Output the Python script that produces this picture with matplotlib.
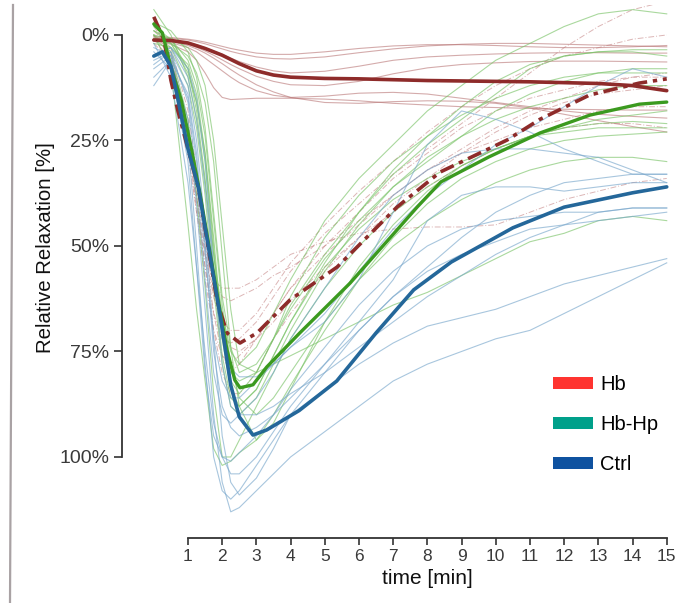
import numpy as np
import matplotlib
matplotlib.use("Agg")
from matplotlib import pyplot as plt
from matplotlib.patches import Patch
from matplotlib.lines import Line2D

plt.rcParams["font.family"] = ["Liberation Sans", "DejaVu Sans"]

# === DATA (relative relaxation in %)
# common time grid for the individual traces (min)
t_grid = [0, 0.5, 1, 1.25, 1.5, 1.75, 2, 2.25, 2.5, 3, 3.5, 4, 5, 6, 7, 8, 9, 10, 11, 12, 13, 14, 15]

# Hb - individual traces (solid, thin)
hb_1 = [0.5, 0.8, 1.2, 1.6, 2.1, 2.7, 3.3, 3.9, 4.4, 5.2, 5.6, 5.7, 5.2, 4.2, 3.3, 2.6, 2.2, 2.0, 2.0, 2.2, 2.4, 2.6, 2.8]
hb_2 = [1.0, 1.2, 1.8, 2.3, 3.0, 3.8, 4.6, 5.5, 6.3, 7.6, 8.5, 9.0, 8.6, 7.4, 6.0, 5.2, 4.8, 4.5, 4.3, 4.2, 4.2, 4.3, 4.3]
hb_3 = [0.8, 1.3, 2.2, 2.9, 3.8, 4.8, 5.9, 7.0, 8.0, 9.8, 11.0, 11.8, 12.0, 11.0, 9.2, 7.8, 7.0, 6.6, 6.3, 6.2, 6.2, 6.3, 6.4]
hb_4 = [1.5, 2.2, 4.0, 6.0, 9.0, 12.5, 14.8, 15.3, 15.2, 15.0, 15.0, 15.0, 15.2, 15.6, 16.2, 16.6, 17.0, 17.2, 17.4, 17.6, 17.7, 17.8, 17.8]
hb_5 = [1.2, 1.8, 3.0, 4.0, 5.5, 7.0, 8.5, 10.0, 11.3, 13.2, 14.3, 14.8, 14.5, 13.8, 13.6, 14.0, 15.0, 16.0, 17.0, 18.0, 18.8, 19.3, 19.7]
hb_6 = [1.0, 1.5, 2.5, 3.3, 4.3, 5.5, 6.8, 8.2, 9.5, 11.8, 13.5, 14.8, 16.0, 16.2, 15.8, 15.6, 15.7, 16.2, 17.3, 18.8, 20.3, 21.7, 23.0]
hb_7 = [0.3, 0.6, 1.0, 1.3, 1.7, 2.2, 2.7, 3.2, 3.6, 4.3, 4.6, 4.6, 4.0, 3.2, 2.6, 2.3, 2.3, 2.5, 2.8, 3.0, 3.0, 2.8, 2.5]

# Hb - individual traces (dash-dot, thin)
dd_1 = [-3, 5, 25, 40, 55, 66, 72, 73, 72, 68, 62, 56, 47, 40, 33, 27, 21, 15, 9, 3, -2, -6, -8]
dd_2 = [-2, 4, 22, 38, 52, 62, 68, 70, 70, 66, 60, 54, 45, 37, 30, 23, 17, 12, 8, 5, 3, 1, 0]
dd_3 = [0, 8, 28, 42, 52, 58, 60, 60, 60, 58, 55, 52, 49, 47, 46, 45.5, 45.5, 45, 42, 39, 37, 35, 34]
dd_4 = [1, 6, 25, 38, 50, 58, 62, 63, 62, 60, 57, 55, 50, 44, 38, 32, 28, 25, 22, 20, 18, 17, 17]
dd_5 = [0, 5, 22, 38, 55, 70, 80, 85, 85, 80, 72, 66, 56, 48, 40, 34, 28, 23, 19, 16, 14, 13, 12]
dd_6 = [2, 6, 20, 35, 50, 66, 76, 80, 78, 72, 66, 60, 52, 45, 38, 32, 27, 22, 18, 15, 12, 10, 9]
dd_7 = [-1, 3, 18, 32, 48, 62, 70, 74, 75, 72, 68, 63, 55, 48, 42, 36, 31, 27, 24, 22, 21, 21, 22]
dd_8 = [0, 4, 24, 42, 58, 70, 76, 78, 76, 72, 66, 60, 50, 42, 34, 28, 22, 18, 15, 13, 11, 10, 10]

# Hb-Hp - individual traces
hp_1 = [-6, 0, 10, 20, 35, 52, 66, 75, 78, 74, 66, 58, 44, 34, 26, 18, 12, 6, 2, -2, -5, -6, -5]
hp_2 = [-1, 2, 9, 16, 28, 48, 70, 82, 85, 80, 72, 64, 52, 42, 33, 26, 20, 14, 8, 5, 4, 3.5, 3.5]
hp_3 = [0, 3, 12, 22, 38, 60, 78, 88, 90, 86, 78, 70, 56, 45, 36, 30, 24, 18, 14, 11, 9, 8, 8]
hp_4 = [1, 2, 5, 9, 16, 30, 52, 74, 88, 96, 92, 84, 68, 55, 45, 37, 31, 27, 24, 23, 22, 22, 22]
hp_5 = [-2, 1, 8, 16, 30, 52, 70, 80, 82, 80, 78, 76, 72, 68, 64, 61, 57, 53, 49, 47, 44, 43, 44]
hp_6 = [0, 8, 45, 65, 82, 98, 102, 101, 99, 96, 90, 83, 70, 58, 48, 40, 34, 30, 27, 25, 24, 23.5, 23]
hp_7 = [1, 4, 20, 38, 60, 85, 100, 100, 96, 88, 80, 72, 60, 50, 42, 36, 31, 27, 24, 22, 21, 20.5, 21]
hp_8 = [2, 3, 7, 14, 28, 50, 72, 84, 88, 84, 76, 68, 55, 46, 39, 34, 30, 27, 24, 22, 20, 19, 18]
hp_9 = [0, 1, 3, 6, 12, 25, 45, 65, 78, 80, 72, 62, 48, 38, 30, 24, 19, 15, 12, 10, 9, 9, 9]
hp_10 = [-3, -1, 4, 10, 22, 42, 62, 74, 80, 78, 72, 65, 53, 44, 36, 29, 24, 20, 17, 15, 13, 12, 12]
hp_11 = [-1, 1, 6, 12, 24, 44, 64, 78, 86, 90, 86, 80, 68, 58, 50, 44, 39, 35, 32, 30, 29, 29, 30]
hp_12 = [1, 2, 8, 18, 34, 56, 76, 86, 88, 84, 76, 68, 54, 42, 32, 24, 17, 11, 7, 5, 4, 4, 5]

# Ctrl - individual traces
ct_1 = [10, 6, 20, 40, 65, 90, 106, 113, 112, 108, 104, 100, 94, 88, 82, 78, 75, 72, 70, 66, 62, 58, 54]
ct_2 = [8, 5, 25, 50, 78, 100, 108, 110, 108, 102, 96, 90, 84, 78, 73, 69, 67, 65, 62, 59, 57, 55, 53]
ct_3 = [6, 4, 12, 25, 45, 72, 95, 106, 109, 105, 98, 90, 80, 70, 62, 56, 52, 49, 46, 45, 44, 43, 42]
ct_4 = [4, 8, 30, 55, 80, 95, 100, 101, 99, 95, 90, 84, 74, 64, 56, 50, 46, 44, 43, 42, 42, 41, 41]
ct_5 = [12, 6, 14, 28, 50, 75, 88, 93, 95, 93, 90, 86, 78, 68, 58, 44, 38, 36, 36, 37, 36, 35, 35]
ct_6 = [3, 5, 15, 30, 52, 72, 82, 86, 86, 82, 78, 74, 68, 58, 42, 26, 18, 20, 23, 27, 30, 33, 33]
ct_7 = [5, 3, 10, 20, 36, 56, 72, 79, 81, 81, 78, 74, 66, 56, 46, 38, 32, 26, 22, 17, 12, 8, 10]
ct_8 = [7, 4, 16, 34, 58, 80, 90, 92, 90, 86, 80, 72, 60, 48, 38, 32, 28, 27, 27, 28, 29, 32, 35]
ct_9 = [2, 10, 35, 55, 75, 92, 100, 104, 104, 100, 94, 88, 78, 70, 62, 55, 48, 42, 38, 35, 34, 33, 33]
ct_10 = [5, 3, 8, 15, 30, 55, 78, 88, 90, 90, 88, 85, 80, 74, 68, 62, 57, 52, 48, 45, 42, 41, 41]

# Group means
hb_mean_t = [0, 0.5, 1, 1.5, 2, 2.5, 3, 3.5, 4, 5, 6, 7, 8, 9, 10, 11, 12, 13, 14, 15]
hb_mean = [1.2, 1.3, 1.9, 3.2, 4.8, 6.8, 8.5, 9.5, 10, 10.3, 10.4, 10.6, 10.8, 10.9, 11.0, 11.1, 11.3, 11.5, 12, 13.2]

hb_dash_t = [0, 0.3, 0.5, 0.7, 1.0, 1.3, 1.85, 2.14, 2.52, 3.02, 3.98, 5.36, 7.11, 8.37, 10.33, 11.29, 12.75, 14.2, 15]
hb_dash = [-4.3, 1.2, 10.7, 17.8, 27, 36, 63, 70.6, 73, 70.6, 62.8, 55, 40.8, 32.5, 24.9, 20, 14.2, 11.4, 10.4]

hbhp_mean_t = [0, 0.25, 0.5, 0.8, 1.1, 1.35, 1.88, 2.14, 2.37, 2.52, 2.9, 3.3, 4.27, 5.74, 7.7, 8.4, 9.8, 11.3, 12.75, 14.2, 15]
hbhp_mean = [-2.6, -0.5, 7.6, 15.4, 27, 37.5, 62.8, 74.6, 81.8, 83.6, 82.9, 78.7, 70.6, 58.8, 40.8, 34.8, 28.9, 23.2, 19, 16.4, 15.9]

ctrl_mean_t = [0, 0.25, 0.5, 0.7, 1.0, 1.3, 1.95, 2.25, 2.5, 2.9, 3.3, 4.25, 5.35, 6.5, 7.6, 8.7, 10.5, 12, 13, 14, 15]
ctrl_mean = [5, 4, 7.5, 15, 27, 36, 67, 83, 90.5, 94.8, 93.6, 89, 82, 70.6, 60.4, 53.8, 45.7, 40.8, 39.1, 37.4, 36]

legend_labels = ["Hb", "Hb-Hp", "Ctrl"]
legend_colors = ["#ff3430", "#00a08a", "#0f52a0"]

# === PLOT
fig = plt.figure(figsize=(6.77, 6.03), dpi=100)
ax = fig.add_axes([122 / 677, 65 / 603, 555 / 677, 533 / 603])

for y in [hb_1, hb_2, hb_3, hb_4, hb_5, hb_6, hb_7]:
    ax.plot(t_grid, y, color="#b87474", lw=0.8, alpha=0.6)
for y in [dd_1, dd_2, dd_3, dd_4, dd_5, dd_6, dd_7, dd_8]:
    ax.plot(t_grid, y, color="#c07a7a", lw=0.7, alpha=0.55, ls=(0, (6, 2, 1, 2)))
for y in [hp_1, hp_2, hp_3, hp_4, hp_5, hp_6, hp_7, hp_8, hp_9, hp_10, hp_11, hp_12]:
    ax.plot(t_grid, y, color="#7cc46a", lw=0.8, alpha=0.65)
for y in [ct_1, ct_2, ct_3, ct_4, ct_5, ct_6, ct_7, ct_8, ct_9, ct_10]:
    ax.plot(t_grid, y, color="#7aa8cc", lw=0.8, alpha=0.65)

ax.plot(hb_mean_t, hb_mean, color="#8e2b2a", lw=2.6, solid_capstyle="round")
ax.plot(hb_dash_t, hb_dash, color="#8e2b2a", lw=2.6, ls=(0, (4, 1.6, 1.2, 1.6)))
ax.plot(hbhp_mean_t, hbhp_mean, color="#3b9a1f", lw=2.4, solid_capstyle="round")
ax.plot(ctrl_mean_t, ctrl_mean, color="#24679a", lw=2.6, solid_capstyle="round")

ax.set_xlim(-0.93, 15.3)
ax.set_ylim(119.2, -7.1)

for s in ["top", "right"]:
    ax.spines[s].set_visible(False)
ax.spines["left"].set_bounds(0, 100)
ax.spines["bottom"].set_bounds(1, 15)
for s in ["left", "bottom"]:
    ax.spines[s].set_color("#333333")
    ax.spines[s].set_linewidth(1.3)

ax.set_yticks([0, 25, 50, 75, 100])
ax.set_yticklabels(["0%", "25%", "50%", "75%", "100%"])
ax.set_xticks(range(1, 16))
ax.tick_params(colors="#333333", labelcolor="#3a3a3a", width=1.2, length=5)
ax.tick_params(axis="y", labelsize=14, pad=3, length=6)
ax.tick_params(axis="x", labelsize=12.5, pad=3)

ax.set_xlabel("time [min]", fontsize=15, color="#111111")
ax.xaxis.set_label_coords((427.5 - 122) / 555, -0.058)
ax.set_ylabel("Relative Relaxation [%]", fontsize=14.7, color="#111111")
ax.yaxis.set_label_coords((55 - 122) / 555, (538 - 248) / 533)

handles = [Patch(facecolor=c, edgecolor="none") for c in legend_colors]
fig.legend(handles, legend_labels, loc="upper left", bbox_to_anchor=(553 / 677, 1 - 375 / 603),
           frameon=False, fontsize=14.5, handlelength=2.0, handleheight=0.55,
           handletextpad=0.35, labelspacing=1.05, borderpad=0, borderaxespad=0)

# grey rule at the left edge
fig.add_artist(Line2D([13 / 677, 10 / 677], [1 - 5 / 603, 0], color="#a9a2a4", lw=1.6))

plt.savefig("out.png", dpi=100)
